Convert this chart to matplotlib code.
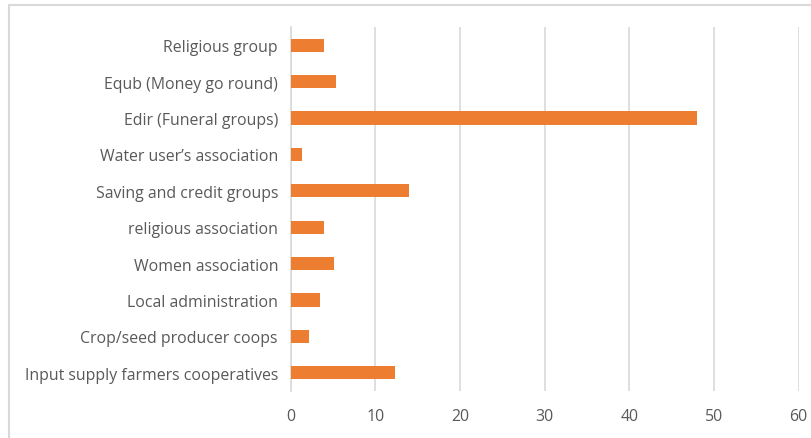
import matplotlib
matplotlib.use("Agg")
import matplotlib.pyplot as plt
from matplotlib.patches import Rectangle

# categories listed bottom to top, as they appear on the y axis
categories = [
    "Input supply farmers cooperatives",
    "Crop/seed producer coops",
    "Local administration",
    "Women association",
    "religious association",
    "Saving and credit groups",
    "Water user\u2019s association",
    "Edir (Funeral groups)",
    "Equb (Money go round)",
    "Religious group",
]
values = [12.3, 2.2, 3.5, 5.1, 4.0, 14.0, 1.4, 48.0, 5.4, 4.0]
xticks = [0, 10, 20, 30, 40, 50, 60]

bar_color = "#ED7D31"
grid_color = "#D9D9D9"
text_color = "#595959"

plt.rcParams["font.family"] = ["Open Sans", "DejaVu Sans"]

fig = plt.figure(figsize=(8.12, 4.39), dpi=100)
ax = fig.add_axes([290.5 / 812, 1 - 392 / 439, (798.5 - 290.5) / 812, (392 - 28) / 439])

y = range(len(categories))
ax.barh(y, values, height=0.36, color=bar_color, zorder=3)

ax.set_xlim(0, 60)
ax.set_ylim(-0.5, len(categories) - 0.5)
ax.set_xticks(xticks)
ax.set_xticklabels([str(t) for t in xticks])
ax.set_yticks(list(y))
ax.set_yticklabels(categories)

ax.grid(axis="x", color=grid_color, linewidth=1.2, zorder=0)
for s in ["top", "right", "bottom"]:
    ax.spines[s].set_visible(False)
ax.spines["left"].set_color(grid_color)
ax.spines["left"].set_linewidth(1.2)
ax.tick_params(axis="both", length=0, labelsize=11.4, colors=text_color)
ax.tick_params(axis="y", pad=9)
ax.tick_params(axis="x", pad=12)

# chart border, cut off at the right and bottom edges of the image
fig.patches.append(Rectangle((9 / 812, -0.05), 0.99, 1 - 5.5 / 439 + 0.05,
                             transform=fig.transFigure, fill=False,
                             edgecolor=grid_color, linewidth=1.5))

fig.savefig("out.png", dpi=100)
